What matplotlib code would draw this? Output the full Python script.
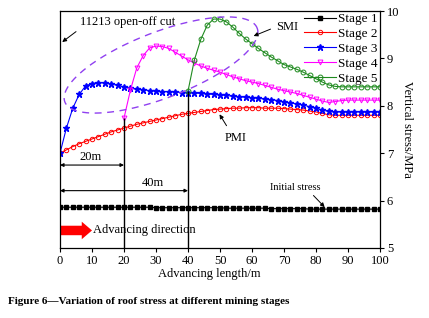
import numpy as np
import matplotlib
matplotlib.use("Agg")
import matplotlib.pyplot as plt

plt.rcParams.update({
    'font.family': 'serif',
    'font.serif': ['Liberation Serif', 'DejaVu Serif'],
    'font.size': 9,
    'xtick.labelsize': 9,
    'ytick.labelsize': 9,
})

# advancing length (m)
x_full = list(range(0, 101, 2))
x_stage4 = list(range(20, 101, 2))
x_stage5 = list(range(40, 101, 2))

stage1 = [5.86, 5.86, 5.86, 5.86, 5.86, 5.86, 5.86, 5.86, 5.86, 5.86, 5.86,
          5.86, 5.86, 5.86, 5.86, 5.85, 5.85, 5.85, 5.85, 5.85, 5.85,
          5.85, 5.85, 5.85, 5.85, 5.85, 5.84, 5.84, 5.84, 5.84, 5.84,
          5.84, 5.84, 5.83, 5.83, 5.83, 5.83, 5.83, 5.83, 5.82, 5.82,
          5.82, 5.82, 5.82, 5.82, 5.82, 5.82, 5.82, 5.82, 5.82, 5.82]

stage2 = [7.00, 7.07, 7.14, 7.20, 7.25, 7.30, 7.35, 7.40, 7.45, 7.49, 7.53,
          7.57, 7.61, 7.64, 7.67, 7.70, 7.73, 7.76, 7.79, 7.82, 7.84,
          7.86, 7.88, 7.90, 7.92, 7.93, 7.94, 7.95, 7.95, 7.96, 7.96,
          7.96, 7.95, 7.95, 7.95, 7.94, 7.93, 7.92, 7.91, 7.89, 7.87,
          7.84, 7.81, 7.80, 7.80, 7.80, 7.80, 7.80, 7.80, 7.80, 7.80]

stage3 = [7.00, 7.53, 7.95, 8.24, 8.42, 8.47, 8.49, 8.48, 8.46, 8.43, 8.40,
          8.37, 8.35, 8.34, 8.32, 8.31, 8.30, 8.30, 8.29, 8.28, 8.28,
          8.27, 8.26, 8.25, 8.24, 8.23, 8.22, 8.20, 8.19, 8.18, 8.17,
          8.16, 8.14, 8.13, 8.11, 8.08, 8.06, 8.04, 8.02, 7.98, 7.95,
          7.91, 7.88, 7.87, 7.87, 7.87, 7.87, 7.87, 7.87, 7.87, 7.87]

stage4 = [7.74, 8.33, 8.80, 9.06, 9.22, 9.26, 9.25, 9.21, 9.13, 9.05,
          8.97, 8.90, 8.84, 8.79, 8.75, 8.71, 8.66, 8.61, 8.57, 8.53,
          8.50, 8.47, 8.43, 8.39, 8.35, 8.32, 8.29, 8.26, 8.22, 8.18,
          8.14, 8.10, 8.07, 8.09, 8.11, 8.12, 8.12, 8.12, 8.12, 8.12, 8.12]

stage5 = [8.31, 8.97, 9.40, 9.70, 9.83, 9.83, 9.77, 9.66, 9.53, 9.41,
          9.31, 9.21, 9.12, 9.03, 8.95, 8.87, 8.82, 8.77, 8.71, 8.64,
          8.57, 8.50, 8.44, 8.41, 8.40, 8.40, 8.40, 8.40, 8.40, 8.40, 8.40]

x_ticks = list(range(0, 101, 10))
y_ticks = [5, 6, 7, 8, 9, 10]

fig = plt.figure(figsize=(4.29, 3.18), dpi=100)
ax = fig.add_axes([60/429, 70/318, 320/429, 237/318])

ax.plot(x_full, stage1, color='black', lw=0.8, marker='s', ms=2.6, label='Stage 1')
ax.plot(x_full, stage2, color='red', lw=0.8, marker='o', ms=3.2, mfc='none', mew=0.7, label='Stage 2')
ax.plot(x_full, stage3, color='blue', lw=0.8, marker='*', ms=5, label='Stage 3')
ax.plot(x_stage4, stage4, color='#ff00ff', lw=0.8, marker='v', ms=3.5, mfc='none', mew=0.7, label='Stage 4')
ax.plot(x_stage5, stage5, color='#1f8a1f', lw=0.8, marker='o', ms=3.5, mfc='none', mew=0.7, label='Stage 5')

# vertical guide lines where stages 4 and 5 start
ax.vlines([x_stage4[0], x_stage5[0]], 5, [stage4[0], stage5[0]], color='black', lw=1.0)

# dashed ellipse (drawn in pixel space then mapped to axes fraction)
t = np.linspace(0, 2*np.pi, 300)
th = np.deg2rad(21)
cx, cy, ea, eb = 161, 65, 103, 33
px = cx + ea*np.cos(t)*np.cos(th) + eb*np.sin(t)*np.sin(th)
py = cy - ea*np.cos(t)*np.sin(th) + eb*np.sin(t)*np.cos(th)
ax.plot((px - 60)/320, (248 - py)/237, transform=ax.transAxes, color='#9040f0',
        lw=1.0, ls=(0, (5, 4)), clip_on=False)

arrow_kw = dict(arrowstyle='-|>', color='black', lw=0.7, mutation_scale=6)
ax.annotate('', xy=(0, 0.862), xytext=(0.057, 0.92), xycoords='axes fraction',
            textcoords='axes fraction', arrowprops=arrow_kw)
ax.text(6.3, 9.76, '11213 open-off cut', fontsize=9, va='center', ha='left')

ax.annotate('', xy=(59.7, 9.45), xytext=(66.6, 9.64), arrowprops=arrow_kw)
ax.text(67.5, 9.66, 'SMI', fontsize=9, va='center', ha='left')

ax.annotate('', xy=(49.4, 7.87), xytext=(52.5, 7.53), arrowprops=arrow_kw)
ax.text(55, 7.32, 'PMI', fontsize=9, va='center', ha='center')

ax.annotate('', xy=(83.3, 5.82), xytext=(78.6, 6.15), arrowprops=arrow_kw)
ax.text(73.4, 6.28, 'Initial stress', fontsize=7.5, va='center', ha='center')

dim_kw = dict(arrowstyle='<|-|>', color='black', lw=0.8, mutation_scale=5,
              shrinkA=0, shrinkB=0)
ax.annotate('', xy=(0, 6.75), xytext=(20, 6.75), arrowprops=dim_kw)
ax.text(9.5, 6.91, '20m', fontsize=9, ha='center', va='center')
ax.annotate('', xy=(0, 6.21), xytext=(40, 6.21), arrowprops=dim_kw)
ax.text(29, 6.38, '40m', fontsize=9, ha='center', va='center')

ax.arrow(0, 5.37, 10, 0, width=0.2, head_width=0.37, head_length=3.2,
         length_includes_head=True, color='red', lw=0)
ax.text(10.4, 5.37, 'Advancing direction', fontsize=9, va='center', ha='left')

ax.set_xlim(0, 100)
ax.set_ylim(5, 10)
ax.set_xticks(x_ticks)
ax.set_yticks(y_ticks)
ax.yaxis.tick_right()
ax.yaxis.set_label_position('right')
ax.tick_params(axis='both', direction='out', length=3, width=0.8, pad=2)
for s in ax.spines.values():
    s.set_linewidth(0.9)

ax.set_xlabel('Advancing length/m', fontsize=9, labelpad=1)
ax.xaxis.set_label_coords(0.467, -0.085)
ax.set_ylabel('Vertical stress/MPa', fontsize=9, rotation=270, labelpad=10)

ax.legend(loc='upper right', bbox_to_anchor=(1.0, 1.0), frameon=False,
          numpoints=1, fontsize=9.5, handlelength=2.4, handletextpad=0.2,
          labelspacing=0.2, borderaxespad=0.1, borderpad=0.05)

fig.text(8/429, 16/318, 'Figure 6\u2014Variation of roof stress at different mining stages',
         fontsize=8, fontweight='bold', va='center', ha='left')

fig.savefig('out.png', dpi=100)
